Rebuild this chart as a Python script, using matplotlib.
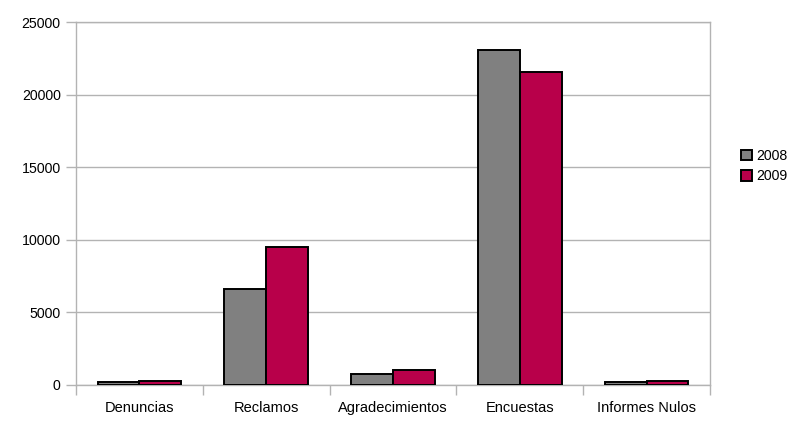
import matplotlib
matplotlib.use("Agg")
import matplotlib.pyplot as plt
import numpy as np
from matplotlib.patches import Patch

categories = ["Denuncias", "Reclamos", "Agradecimientos", "Encuestas", "Informes Nulos"]
values_2008 = [180, 6600, 740, 23080, 170]
values_2009 = [290, 9470, 1020, 21550, 270]
series_labels = ["2008", "2009"]
y_ticks = [0, 5000, 10000, 15000, 20000, 25000]

GRID = "#b3b3b3"
COLORS = ["#808080", "#b8004a"]

plt.rcParams["font.family"] = ["Liberation Sans", "DejaVu Sans"]

fig = plt.figure(figsize=(7.96, 4.21), dpi=100)
ax = fig.add_axes([0.0955, 0.0862, 0.7965, 0.8615])

x = np.arange(len(categories))
width = 0.33
for offset, vals, color in [(-width / 2, values_2008, COLORS[0]), (width / 2, values_2009, COLORS[1])]:
    ax.bar(x + offset, vals, width, color=color, edgecolor="black", linewidth=1.4, zorder=3)

ax.set_xlim(-0.5, len(categories) - 0.5)
ax.set_ylim(0, 25000)
ax.set_yticks(y_ticks)
ax.set_yticklabels([str(t) for t in y_ticks], fontsize=10.2)
ax.yaxis.grid(True, color=GRID, linewidth=1.0, zorder=0)

# category boundaries carry the tick marks, centres carry the labels
ax.set_xticks(np.arange(len(categories) + 1) - 0.5)
ax.set_xticklabels([])
ax.set_xticks(x, minor=True)
ax.set_xticklabels(categories, minor=True, fontsize=10.5)
ax.tick_params(axis="x", which="major", length=7, color=GRID, width=1.0)
ax.tick_params(axis="x", which="minor", length=0, pad=12)
ax.tick_params(axis="y", length=7, color=GRID, width=1.0, pad=4)

for spine in ax.spines.values():
    spine.set_color(GRID)
    spine.set_linewidth(1.0)

handles = [Patch(facecolor=c, edgecolor="black", linewidth=1.4) for c in COLORS]
fig.legend(handles, series_labels, loc="center left", bbox_to_anchor=(0.922, 0.605),
           frameon=False, fontsize=10.2, handlelength=0.75, handleheight=0.75,
           handletextpad=0.35, labelspacing=0.45, borderpad=0)

fig.savefig("out.png", dpi=100)
